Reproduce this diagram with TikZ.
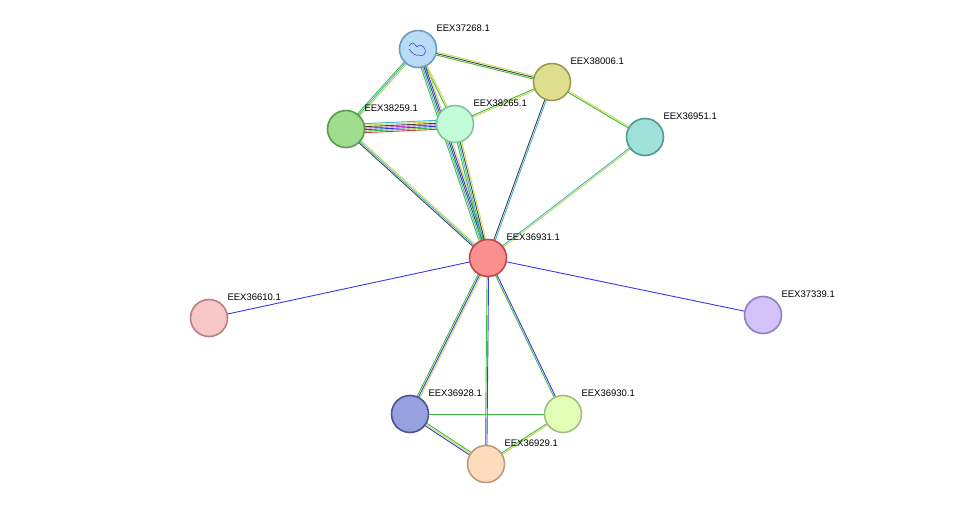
\documentclass[tikz,border=0pt]{standalone}
\usepackage{fontspec}
\setmainfont{Liberation Sans}
\usetikzlibrary{calc,backgrounds}
\definecolor{tm}{HTML}{C7D84A}
\definecolor{nb}{HTML}{3BBF3B}
\definecolor{db}{HTML}{3CB4D8}
\definecolor{co}{HTML}{444444}
\definecolor{bl}{HTML}{3838F0}
\definecolor{ex}{HTML}{B040C0}
\definecolor{fu}{HTML}{E03030}
\tikzset{
  prot/.style={circle,minimum size=37pt,inner sep=0pt,line width=1.6pt},
  lbl/.style={xshift=-1pt,yshift=21pt,inner sep=0pt,font=\fontsize{9.5}{11}\selectfont},
}
\newcommand\multiedge[4]{%
  \foreach \c [count=\i] in {#4} {%
    \pgfmathsetmacro\o{(\i-(#3+1)/2)*1.5}%
    \draw[\c, line width=0.9pt] ($(#1)!\o pt!90:(#2)$) -- ($(#2)!\o pt!-90:(#1)$);
  }}
\begin{document}
\begin{tikzpicture}[x=1pt,y=-1pt]
\useasboundingbox (0,0) rectangle (976,510);
\node[prot,fill={rgb,255:red,184;green,220;blue,245},draw={rgb,255:red,106;green,154;blue,192},label={[lbl]0:EEX37268.1}] (a) at (418,49) {};
\node[prot,fill={rgb,255:red,222;green,222;blue,144},draw={rgb,255:red,156;green,156;blue,80},label={[lbl]0:EEX38006.1}] (b) at (552,82) {};
\node[prot,fill={rgb,255:red,159;green,222;blue,143},draw={rgb,255:red,92;green,154;blue,78},label={[lbl]0:EEX38259.1}] (c) at (346,129) {};
\node[prot,fill={rgb,255:red,194;green,252;blue,216},draw={rgb,255:red,128;green,196;blue,154},label={[lbl]0:EEX38265.1}] (d) at (455,124) {};
\node[prot,fill={rgb,255:red,159;green,224;blue,216},draw={rgb,255:red,79;green,154;blue,144},label={[lbl]0:EEX36951.1}] (e) at (645,137) {};
\node[prot,fill={rgb,255:red,251;green,143;blue,143},draw={rgb,255:red,192;green,72;blue,72},label={[lbl]0:EEX36931.1}] (f) at (488,258) {};
\node[prot,fill={rgb,255:red,247;green,198;blue,198},draw={rgb,255:red,184;green,128;blue,128},label={[lbl]0:EEX36610.1}] (g) at (209,318) {};
\node[prot,fill={rgb,255:red,212;green,194;blue,251},draw={rgb,255:red,144;green,128;blue,192},label={[lbl]0:EEX37339.1}] (h) at (763,315) {};
\node[prot,fill={rgb,255:red,151;green,161;blue,223},draw={rgb,255:red,76;green,84;blue,144},label={[lbl]0:EEX36928.1}] (i) at (410,414) {};
\node[prot,fill={rgb,255:red,226;green,253;blue,182},draw={rgb,255:red,160;green,192;blue,128},label={[lbl]0:EEX36930.1}] (j) at (563,414) {};
\node[prot,fill={rgb,255:red,253;green,220;blue,189},draw={rgb,255:red,192;green,154;blue,120},label={[lbl]0:EEX36929.1}] (k) at (486,464) {};
\draw[blue!60!gray,line width=0.5pt] (a) ++(-9,-3) .. controls +(3,-5) and +(-3,-4) .. ++(8,1) .. controls +(3,-4) and +(-2,-3) .. ++(8,2) .. controls +(2,4) and +(3,3) .. ++(-6,6) .. controls +(-3,2) and +(2,3) .. ++(-10,-6);
\begin{scope}[on background layer]
\multiedge{a}{b}{3}{nb,co,tm}
\multiedge{a}{c}{3}{nb,db,tm}
\multiedge{a}{d}{2}{nb,tm}
\multiedge{a}{f}{5}{nb,db,co,bl,tm}
\multiedge{b}{d}{2}{nb,tm}
\multiedge{b}{e}{2}{nb,tm}
\multiedge{b}{f}{2}{co,db}
\multiedge{c}{d}{7}{fu,nb,bl,ex,co,tm,db}
\multiedge{c}{f}{3}{co,db,tm}
\multiedge{d}{f}{4}{nb,db,co,tm}
\multiedge{e}{f}{2}{db,tm}
\multiedge{f}{g}{1}{bl}
\multiedge{f}{h}{1}{bl}
\multiedge{f}{i}{3}{nb,bl,tm}
\multiedge{f}{j}{2}{nb,bl}
\multiedge{f}{k}{2}{nb,bl}
\multiedge{i}{j}{1}{nb}
\multiedge{i}{k}{3}{bl,tm,nb}
\multiedge{j}{k}{2}{nb,tm}
\end{scope}
\end{tikzpicture}
\end{document}
